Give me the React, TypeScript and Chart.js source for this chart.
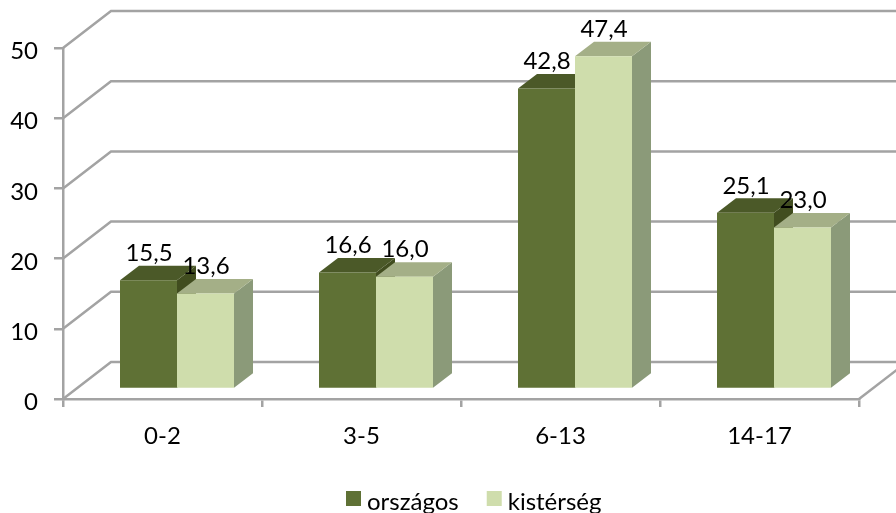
import React, { useEffect, useRef } from "react";
import { Chart, registerables } from "chart.js";

Chart.register(...registerables);

const categories = ["0-2", "3-5", "6-13", "14-17"];
const orszagos = [15.5, 16.6, 42.8, 25.1];
const kisterseg = [13.6, 16.0, 47.4, 23.0];
const yTicks = [0, 10, 20, 30, 40, 50];

const FONT = "Lato, Carlito, Calibri, sans-serif";
const FONT_SIZE = 24;
const GRID = "#a3a3a3";
const TEXT = "#000000";
const faces = [
  { front: "#5f7135", top: "#4b5928", side: "#414d1f" },
  { front: "#cfddac", top: "#a4af87", side: "#8b9a79" },
];
const WALL = { dx: 48, dy: -37 };
const BAR_SHIFT = { dx: 14.5, dy: -10 };
const BAR_DEPTH = { dx: 19, dy: -14.5 };

const poly = (ctx: CanvasRenderingContext2D, pts: number[][], fill: string) => {
  ctx.fillStyle = fill;
  ctx.beginPath();
  pts.forEach(([x, y], i) => (i ? ctx.lineTo(x, y) : ctx.moveTo(x, y)));
  ctx.closePath();
  ctx.fill();
};

const threeD = {
  id: "threeD",
  beforeDatasetsDraw(chart: any) {
    const { ctx, scales, chartArea, width } = chart;
    const { x: xs, y: ys } = scales;
    ctx.save();
    ctx.strokeStyle = GRID;
    ctx.lineWidth = 2.5;
    yTicks.forEach((v) => {
      const y = ys.getPixelForValue(v);
      ctx.beginPath();
      ctx.moveTo(chartArea.left, y);
      ctx.lineTo(chartArea.left + WALL.dx, y + WALL.dy);
      ctx.lineTo(width, y + WALL.dy);
      ctx.stroke();
    });
    const y0 = ys.getPixelForValue(0);
    ctx.beginPath();
    ctx.moveTo(xs.right, y0);
    ctx.lineTo(xs.right + WALL.dx, y0 + WALL.dy);
    ctx.stroke();

    [0, 1].forEach((d) => {
      chart.getDatasetMeta(d).data.forEach((bar: any) => {
        const { x, y, base, width: w } = bar.getProps(["x", "y", "base", "width"], true);
        const l = x - w / 2 + BAR_SHIFT.dx;
        const r = x + w / 2 + BAR_SHIFT.dx;
        const t = y + BAR_SHIFT.dy;
        const b = base + BAR_SHIFT.dy;
        poly(ctx, [[r, t], [r + BAR_DEPTH.dx, t + BAR_DEPTH.dy], [r + BAR_DEPTH.dx, b + BAR_DEPTH.dy], [r, b]], faces[d].side);
        poly(ctx, [[l, t], [l + BAR_DEPTH.dx, t + BAR_DEPTH.dy], [r + BAR_DEPTH.dx, t + BAR_DEPTH.dy], [r, t]], faces[d].top);
      });
    });
    ctx.restore();
    ctx.save();
    ctx.translate(BAR_SHIFT.dx, BAR_SHIFT.dy);
  },
  afterDatasetsDraw(chart: any) {
    const { ctx } = chart;
    ctx.restore();
    ctx.save();
    ctx.font = `${FONT_SIZE}px ${FONT}`;
    ctx.fillStyle = TEXT;
    ctx.textAlign = "center";
    ctx.textBaseline = "middle";
    [0, 1].forEach((d) => {
      const values = chart.data.datasets[d].data as number[];
      chart.getDatasetMeta(d).data.forEach((bar: any, i: number) => {
        const { x, y } = bar.getProps(["x", "y"], true);
        ctx.fillText(values[i].toFixed(1).replace(".", ","), x + BAR_SHIFT.dx + 0.5, y + BAR_SHIFT.dy - 27);
      });
    });
    // legend
    let cursor = 346;
    ctx.textAlign = "left";
    chart.data.datasets.forEach((ds: any) => {
      ctx.fillStyle = ds.backgroundColor;
      ctx.fillRect(cursor, 491, 15, 15);
      ctx.fillStyle = TEXT;
      ctx.fillText(ds.label, cursor + 21, 502);
      cursor += 21 + ctx.measureText(ds.label).width + 28;
    });
    ctx.restore();
  },
};

export default function App() {
  const ref = useRef<HTMLCanvasElement>(null);
  useEffect(() => {
    document.body.style.margin = "0";
    const chart = new Chart(ref.current!, {
      type: "bar",
      data: {
        labels: categories,
        datasets: [
          { label: "országos", data: orszagos, backgroundColor: faces[0].front, clip: false },
          { label: "kistérség", data: kisterseg, backgroundColor: faces[1].front, clip: false },
        ],
      } as any,
      options: {
        responsive: false,
        animation: false,
        layout: { padding: { top: 48, right: 37, left: 0, bottom: 0 } },
        datasets: { bar: { barPercentage: 1, categoryPercentage: 114 / 199 } },
        plugins: { legend: { display: false }, tooltip: { enabled: false }, title: { display: false } },
        scales: {
          x: {
            afterFit: (s: any) => { s.height = 114; },
            border: { color: GRID, width: 2.5 },
            grid: { offset: true, drawOnChartArea: false, color: GRID, lineWidth: 2.5, tickLength: 8 },
            ticks: { color: TEXT, font: { family: FONT, size: FONT_SIZE }, padding: 15, maxRotation: 0 },
          },
          y: {
            min: 0,
            max: 50,
            afterFit: (s: any) => { s.width = 63; },
            afterBuildTicks: (s: any) => { s.ticks = yTicks.map((value) => ({ value })); },
            border: { color: GRID, width: 2.5 },
            grid: { drawOnChartArea: false, color: GRID, lineWidth: 2.5, tickLength: 9 },
            ticks: { color: TEXT, font: { family: FONT, size: FONT_SIZE }, padding: 16, labelOffset: 3.5 },
          },
        },
      } as any,
      plugins: [threeD],
    });
    return () => chart.destroy();
  }, []);
  return <canvas ref={ref} width={896} height={513} style={{ display: "block" }} />;
}
